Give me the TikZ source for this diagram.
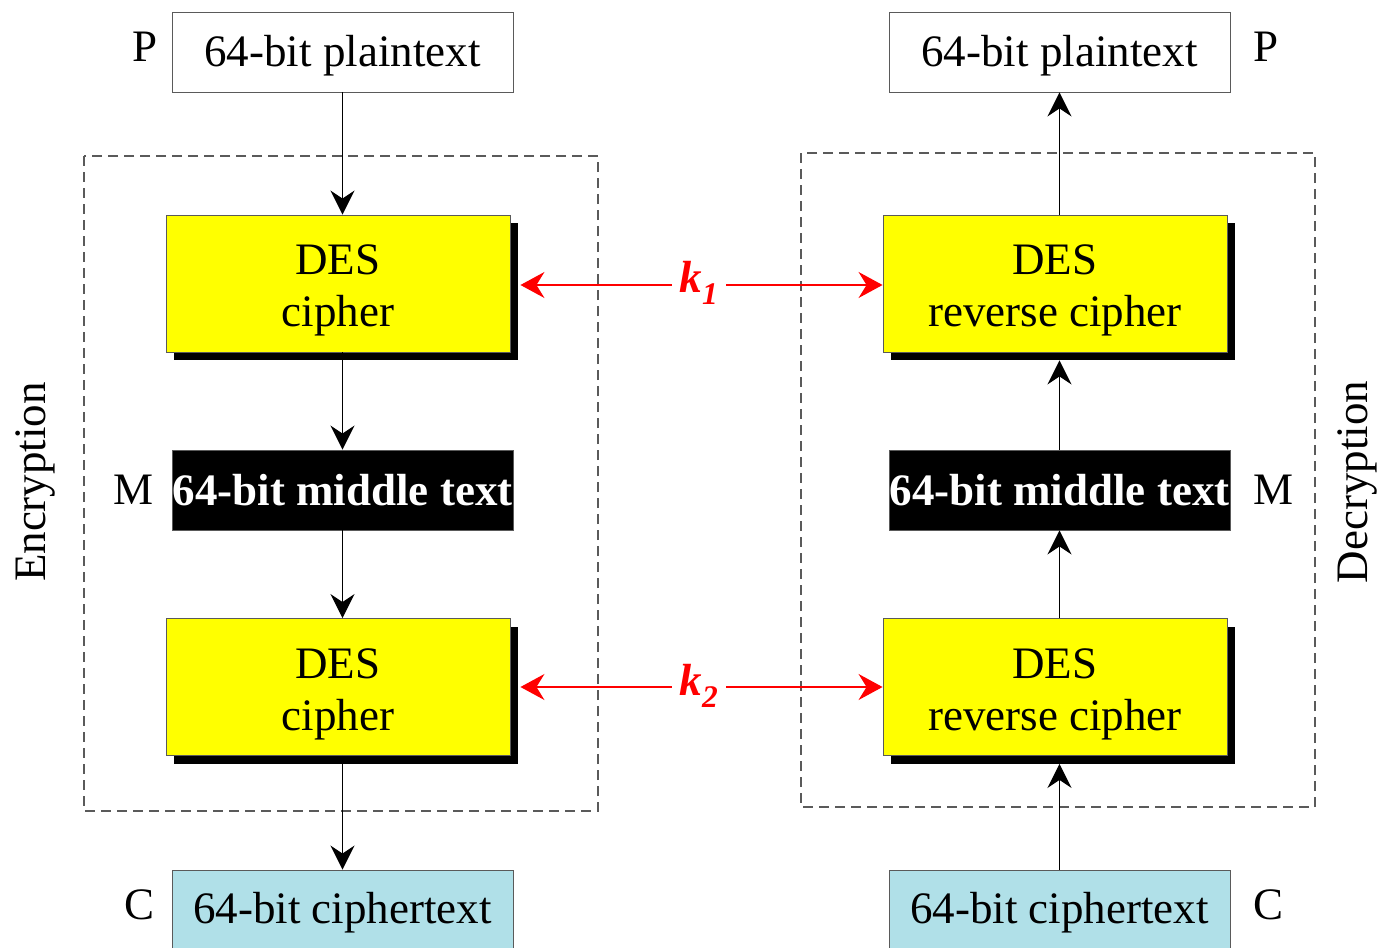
\documentclass[tikz,border=0pt]{standalone}
\usepackage{fontspec}
\setmainfont{Liberation Serif}
\usetikzlibrary{arrows.meta,shadows}
\definecolor{cipherblue}{RGB}{176,224,232}
\definecolor{framegray}{RGB}{90,90,90}
\definecolor{desyellow}{RGB}{255,255,0}
\newcommand{\lowered}[2]{\raisebox{0pt}[\dimexpr\height+#1\relax][\depth]{#2}}
\newcommand{\twoline}[2]{\lowered{14pt}{\begin{tabular}{@{}c@{}}#1\\#2\end{tabular}}}
\begin{document}
\begin{tikzpicture}[x=1pt,y=-1pt,
  every node/.style={font=\fontsize{45}{52}\selectfont},
  txtbox/.style={draw=framegray, line width=0.9pt, minimum width=341pt, minimum height=80pt, inner sep=0pt, anchor=center},
  desbox/.style={draw=framegray, line width=0.9pt, fill=desyellow, minimum width=344pt, minimum height=137pt, inner sep=0pt, align=center,
     general shadow={fill=black, shadow xshift=8pt, shadow yshift=-8pt}},
  midbox/.style={txtbox, fill=black, text=white, font=\fontsize{45}{52}\selectfont\bfseries},
  ctbox/.style={txtbox, fill=cipherblue, minimum height=86pt},
  groupbox/.style={draw=framegray, line width=1.2pt, dash pattern=on 10pt off 6pt},
  arr/.style={draw=black, line width=1.3pt, -{Stealth[length=24pt, width=24pt, inset=8pt]}},
  rarr/.style={draw=red, line width=1.3pt, {Stealth[length=24pt, width=26pt, inset=8pt]}-{Stealth[length=24pt, width=26pt, inset=8pt]}},
  keylbl/.style={fill=white, text=red, inner xsep=8pt, inner ysep=2pt, font=\fontsize{45}{52}\selectfont\bfseries\itshape},
  sidelbl/.style={inner sep=0pt}
]
\useasboundingbox (0,0) rectangle (1383,947);
\fill[white] (0,0) rectangle (1383,947);

% group frames
\draw[groupbox] (84,156) rectangle (598,811);
\draw[groupbox] (801,153) rectangle (1315,807);

% left column (encryption)
\node[txtbox] (p1) at (342.5,52) {\lowered{8pt}{64-bit plaintext}};
\node[desbox] (d1) at (338,283.5) {\twoline{DES}{cipher}};
\node[midbox] (m1) at (342.5,490) {64-bit middle text};
\node[desbox] (d2) at (338,687) {\twoline{DES}{cipher}};
\node[ctbox] (c1) at (342.5,913) {64-bit ciphertext};

% right column (decryption)
\node[txtbox] (p2) at (1059.5,52) {\lowered{8pt}{64-bit plaintext}};
\node[desbox] (d3) at (1055,283.5) {\twoline{DES}{reverse cipher}};
\node[midbox] (m2) at (1059.5,490) {64-bit middle text};
\node[desbox] (d4) at (1055,687) {\twoline{DES}{reverse cipher}};
\node[ctbox] (c2) at (1059.5,913) {64-bit ciphertext};

% side labels
\node[sidelbl] (lp1) at (145,47) {P};
\node[sidelbl] (lm1) at (134,490) {M};
\node[sidelbl] (lc1) at (140,905) {C};
\node[sidelbl] (lp2) at (1266,47) {P};
\node[sidelbl] (lm2) at (1273,490) {M};
\node[sidelbl] (lc2) at (1268,905) {C};
\node[sidelbl, rotate=90] (enc) at (35,482) {Encryption};
\node[sidelbl, rotate=90] (dec) at (1357,482) {Decryption};

% shadow-edge coordinates
\coordinate (d1s) at ([yshift=-8pt]d1.south);
\coordinate (d2s) at ([yshift=-8pt]d2.south);
\coordinate (d3s) at ([yshift=-8pt]d3.south);
\coordinate (d4s) at ([yshift=-8pt]d4.south);
\coordinate (d1e) at ([xshift=10pt]d1.east);
\coordinate (d2e) at ([xshift=10pt]d2.east);

% encryption arrows
\draw[arr] (p1.south) -- (p1.south |- d1.north);
\draw[arr] (m1.north |- d1.south) -- (m1.north);
\draw[arr] (m1.south) -- (m1.south |- d2.north);
\draw[arr] (c1.north |- d2.south) -- (c1.north);

% decryption arrows
\draw[arr] (c2.north) -- (c2.north |- d4s);
\draw[arr] (m2.north |- d4.north) -- (m2.south);
\draw[arr] (m2.north) -- (m2.north |- d3s);
\draw[arr] (p2.south |- d3.north) -- (p2.south);

% key arrows
\draw[rarr] (d1e |- 0,285) -- (d3.west |- 0,285);
\node[keylbl] (k1) at (699,283) {k\textsubscript{1}};
\draw[rarr] (d2e |- 0,687) -- (d4.west |- 0,687);
\node[keylbl] (k2) at (699,686) {k\textsubscript{2}};
\end{tikzpicture}
\end{document}
